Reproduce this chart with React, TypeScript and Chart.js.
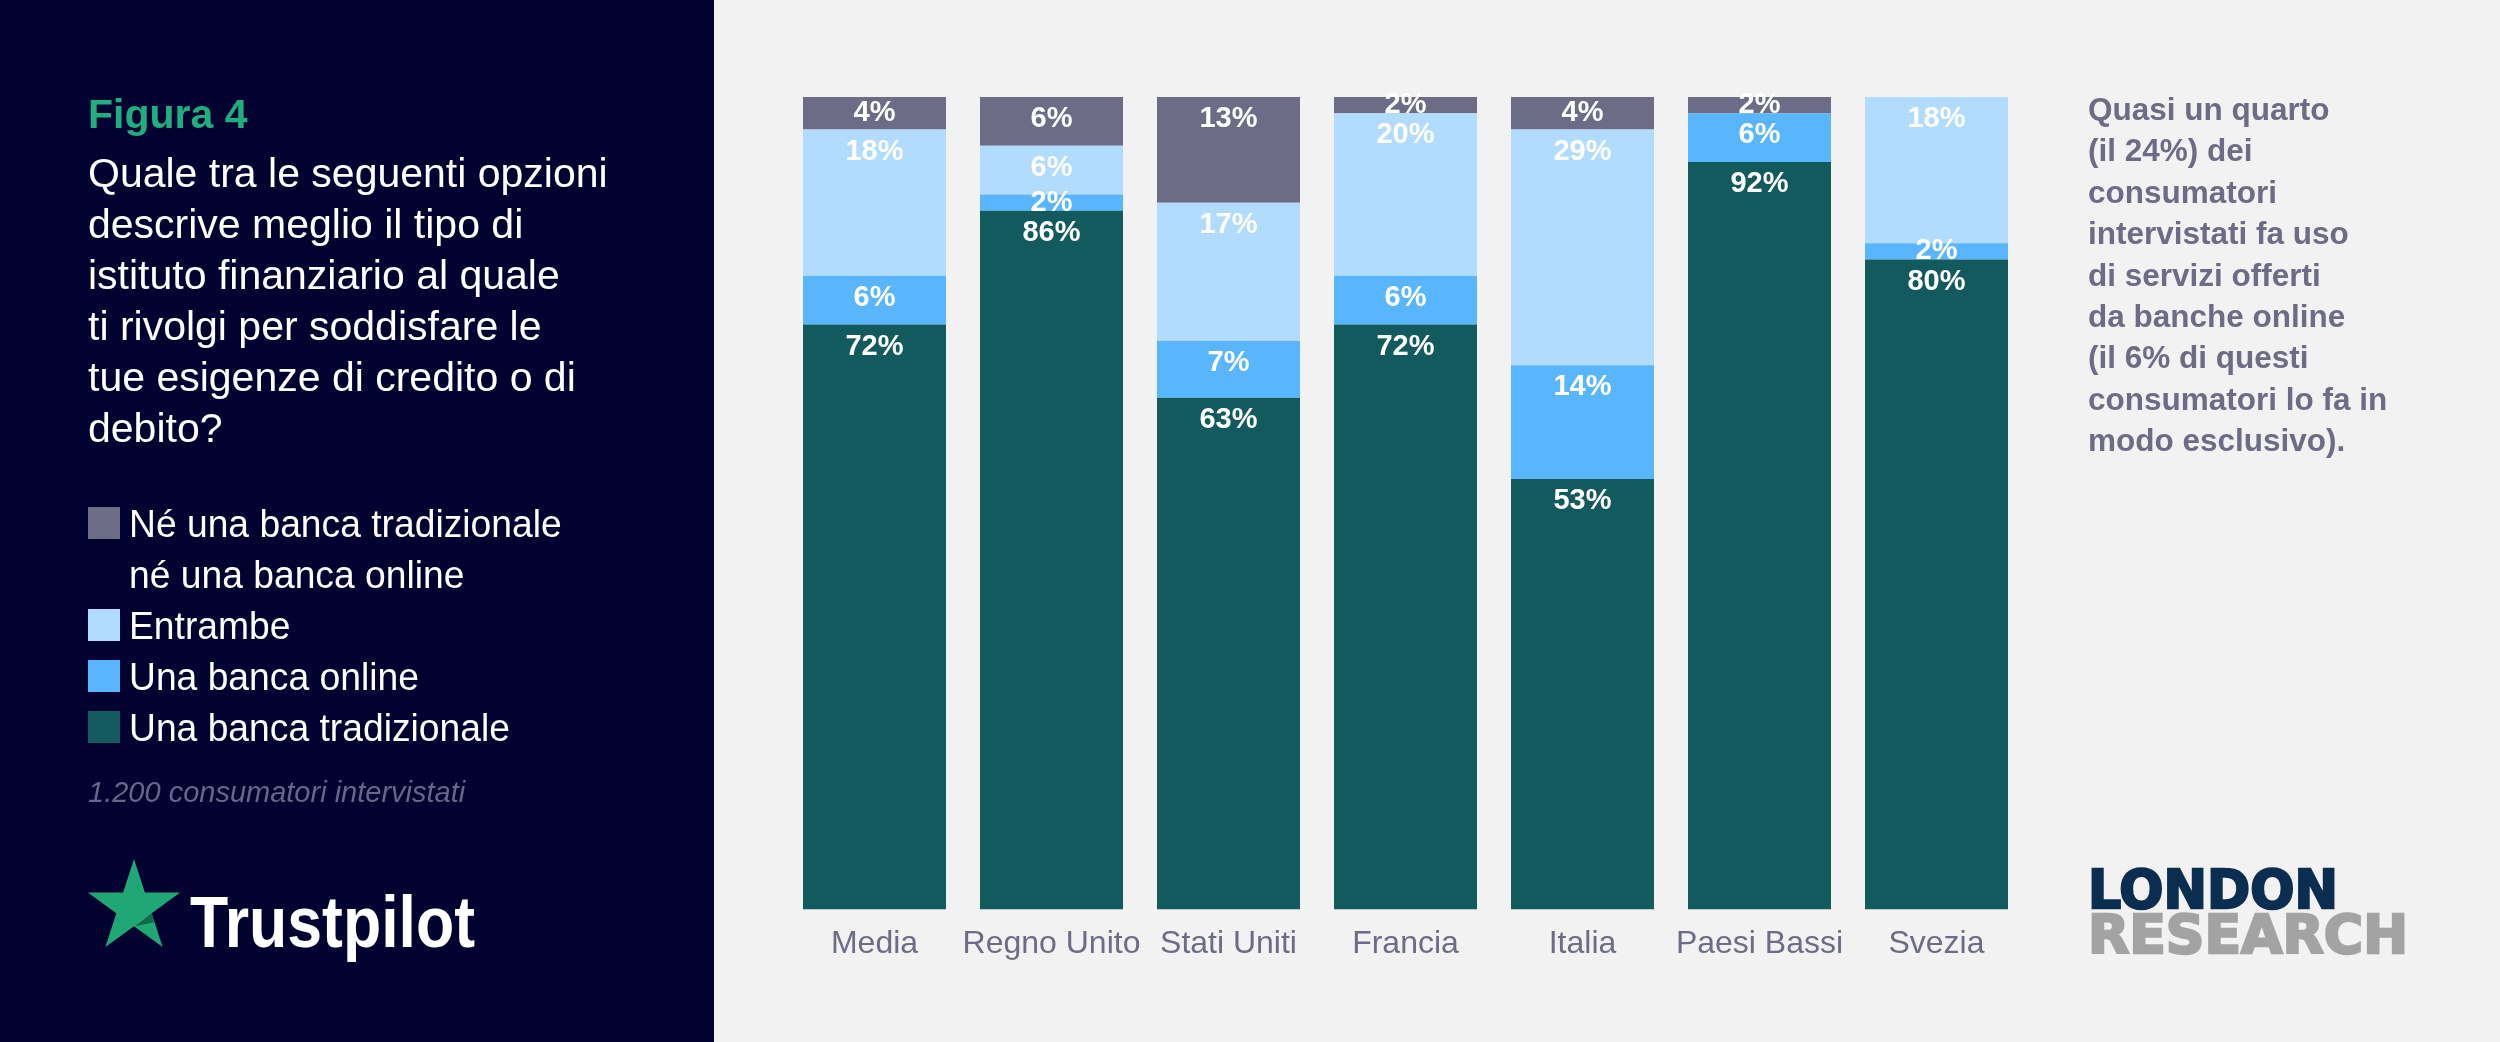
import React, { useEffect, useRef } from "react";
import { Chart, registerables } from "chart.js";

Chart.register(...registerables);

const categories = ["Media", "Regno Unito", "Stati Uniti", "Francia", "Italia", "Paesi Bassi", "Svezia"];
const tradizionale = [72, 86, 63, 72, 53, 92, 80];
const online = [6, 2, 7, 6, 14, 6, 2];
const entrambe = [18, 6, 17, 20, 29, 0, 18];
const nessuna = [4, 6, 13, 2, 4, 2, 0];

const seriesNames = ["Una banca tradizionale", "Una banca online", "Entrambe", "Né una banca tradizionale né una banca online"];
const seriesColors = ["#135a5f", "#59b6fe", "#b1dbff", "#6d6c86"];

const legendLines = [
  { text: "Né una banca tradizionale", swatch: "#6d6c86" },
  { text: "né una banca online", swatch: null },
  { text: "Entrambe", swatch: "#b1dbff" },
  { text: "Una banca online", swatch: "#59b6fe" },
  { text: "Una banca tradizionale", swatch: "#135a5f" },
];

const questionLines = [
  "Quale tra le seguenti opzioni",
  "descrive meglio il tipo di",
  "istituto finanziario al quale",
  "ti rivolgi per soddisfare le",
  "tue esigenze di credito o di",
  "debito?",
];

const noteLines = [
  "Quasi un quarto",
  "(il 24%) dei",
  "consumatori",
  "intervistati fa uso",
  "di servizi offerti",
  "da banche online",
  "(il 6% di questi",
  "consumatori lo fa in",
  "modo esclusivo).",
];

const FONT = "'Liberation Sans', Arial, Helvetica, sans-serif";
const GREY = "#6d6c86";

const segmentLabels = {
  id: "segmentLabels",
  afterDatasetsDraw(chart: any) {
    const ctx = chart.ctx;
    ctx.save();
    ctx.font = `bold 29px ${FONT}`;
    ctx.fillStyle = "#ffffff";
    ctx.textAlign = "center";
    ctx.textBaseline = "middle";
    chart.data.datasets.forEach((ds: any, di: number) => {
      const meta = chart.getDatasetMeta(di);
      meta.data.forEach((el: any, i: number) => {
        const v = ds.data[i];
        if (!v) return;
        const { x, y, base } = el.getProps(["x", "y", "base"], true);
        const h = base - y;
        const cy = y + Math.min(22, h / 2);
        ctx.fillText(v + "%", x, cy);
      });
    });
    ctx.restore();
  },
};

function StarLogo() {
  const cx = 134;
  const cy = 907.6;
  const R = 48.6;
  const r = R * 0.382;
  const pts: string[] = [];
  for (let k = 0; k < 10; k++) {
    const rad = k % 2 === 0 ? R : r;
    const th = (k * 36 * Math.PI) / 180;
    pts.push(`${(cx + rad * Math.sin(th)).toFixed(1)},${(cy - rad * Math.cos(th)).toFixed(1)}`);
  }
  const ix = cx + r * Math.sin((108 * Math.PI) / 180);
  const iy = cy - r * Math.cos((108 * Math.PI) / 180);
  return (
    <g>
      <polygon points={pts.join(" ")} fill="#1fa876" />
      <polygon points={`${ix.toFixed(1)},${iy.toFixed(1)} ${(ix + 2.5).toFixed(1)},${(iy + 9).toFixed(1)} ${cx + 1},${(cy + r).toFixed(1)}`} fill="#0f6b47" />
    </g>
  );
}

export default function App() {
  const canvasRef = useRef<HTMLCanvasElement | null>(null);

  useEffect(() => {
    if (!canvasRef.current) return;
    const data = [tradizionale, online, entrambe, nessuna];
    const chart = new Chart(canvasRef.current, {
      type: "bar",
      data: {
        labels: categories,
        datasets: data.map((d, i) => ({
          label: seriesNames[i],
          data: d,
          backgroundColor: seriesColors[i],
          borderWidth: 0,
          categoryPercentage: 1,
          barPercentage: 143 / 177,
        })),
      },
      options: {
        responsive: false,
        animation: false,
        layout: { padding: { top: 37, left: 0, right: 0, bottom: 0 } },
        plugins: { legend: { display: false }, tooltip: { enabled: false }, title: { display: false } },
        scales: {
          x: {
            stacked: true,
            grid: { display: false, drawTicks: false },
            border: { display: false },
            ticks: {
              color: GREY,
              font: { family: FONT, size: 32 },
              padding: 15,
              autoSkip: false,
              maxRotation: 0,
            },
          },
          y: {
            stacked: true,
            display: false,
            min: 0,
            max: 100,
          },
        },
      },
      plugins: [segmentLabels],
    });
    return () => chart.destroy();
  }, []);

  return (
    <div style={{ position: "absolute", left: 0, top: 0, width: 2500, height: 1042, background: "#f2f2f2", overflow: "hidden" }}>
      <div style={{ position: "absolute", left: 0, top: 0, width: 714, height: 1042, background: "#020230" }} />
      <canvas
        ref={canvasRef}
        width={1239}
        height={918}
        style={{ position: "absolute", left: 786, top: 60, width: 1239, height: 918 }}
      />
      <svg
        width={2500}
        height={1042}
        style={{ position: "absolute", left: 0, top: 0, pointerEvents: "none" }}
      >
        <text x={88} y={128} fill="#1fae7e" fontFamily={FONT} fontWeight="bold" fontSize={41}>
          Figura 4
        </text>
        {questionLines.map((t, i) => (
          <text key={t} x={88} y={187 + i * 51} fill="#ffffff" fontFamily={FONT} fontSize={41}>
            {t}
          </text>
        ))}
        {legendLines.map((l, i) => (
          <g key={l.text}>
            {l.swatch && <rect x={88} y={507 + i * 51} width={32} height={32} fill={l.swatch} />}
            <g transform="translate(129,0) scale(0.955,1)">
              <text x={0} y={537 + i * 51} fill="#ffffff" fontFamily={FONT} fontSize={39}>
                {l.text}
              </text>
            </g>
          </g>
        ))}
        <text x={88} y={802} fill="#66668a" fontFamily={FONT} fontStyle="italic" fontSize={29}>
          1.200 consumatori intervistati
        </text>
        <StarLogo />
        <text x={190} y={947} fill="#ffffff" fontFamily={FONT} fontWeight="bold" fontSize={72} textLength={285} lengthAdjust="spacingAndGlyphs">
          Trustpilot
        </text>
        {noteLines.map((t, i) => (
          <text key={t} x={2088} y={120 + i * 41.4} fill={GREY} fontFamily={FONT} fontWeight="bold" fontSize={31.5}>
            {t}
          </text>
        ))}
        <text x={2088} y={908} fill="#0b2d50" stroke="#0b2d50" strokeWidth={2.5} fontFamily="'DejaVu Sans', sans-serif" fontWeight="bold" fontSize={54} textLength={250} lengthAdjust="spacingAndGlyphs">
          LONDON
        </text>
        <text x={2088} y={953} fill="#a3a3a3" stroke="#a3a3a3" strokeWidth={2.5} fontFamily="'DejaVu Sans', sans-serif" fontWeight="bold" fontSize={54} textLength={320} lengthAdjust="spacingAndGlyphs">
          RESEARCH
        </text>
      </svg>
    </div>
  );
}
